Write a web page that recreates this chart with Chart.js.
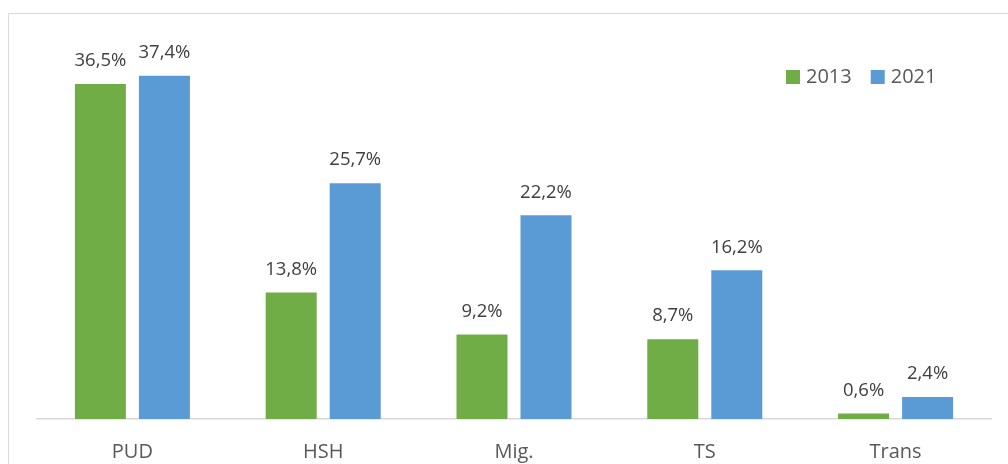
<!DOCTYPE html>
<html><head><meta charset="utf-8">
<script src="https://cdn.jsdelivr.net/npm/chart.js@4/dist/chart.umd.min.js"></script>
<style>html,body{margin:0;padding:0;background:#fff}#wrap{width:1008px;height:464px;position:relative}</style>
</head><body><div id="wrap"><canvas id="c" width="1008" height="464"></canvas></div>
<script>
const categories = ['PUD', 'HSH', 'Mig.', 'TS', 'Trans'];
const seriesNames = ['2013', '2021'];
const values2013 = [36.5, 13.8, 9.2, 8.7, 0.6];
const values2021 = [37.4, 25.7, 22.2, 16.2, 2.4];
const yMin = 0;
const yMax = 40;

const GREEN = '#70AD47';
const BLUE = '#5B9BD5';
const FONT = '"Open Sans", sans-serif';

function fmt(v) { return v.toFixed(1).replace('.', ',') + '%'; }

const framePlugin = {
  id: 'frame',
  beforeDraw(chart) {
    const ctx = chart.ctx;
    ctx.save();
    ctx.fillStyle = '#fff';
    ctx.fillRect(0, 0, chart.width, chart.height);
    ctx.strokeStyle = '#D9D9D9';
    ctx.lineWidth = 1;
    ctx.beginPath();
    ctx.moveTo(8.5, chart.height);
    ctx.lineTo(8.5, 13.5);
    ctx.lineTo(chart.width, 13.5);
    ctx.stroke();
    ctx.restore();
  }
};

const labelPlugin = {
  id: 'valueLabels',
  afterDatasetsDraw(chart) {
    const ctx = chart.ctx;
    ctx.save();
    ctx.font = '18.5px ' + FONT;
    ctx.fillStyle = '#404040';
    ctx.textAlign = 'center';
    ctx.textBaseline = 'middle';
    chart.data.datasets.forEach((ds, i) => {
      const meta = chart.getDatasetMeta(i);
      meta.data.forEach((bar, j) => {
        ctx.fillText(fmt(ds.data[j]), bar.x, bar.y - 23);
      });
    });
    ctx.restore();
  }
};

const legendPlugin = {
  id: 'customLegend',
  afterDraw(chart) {
    const ctx = chart.ctx;
    ctx.save();
    ctx.font = '20px ' + FONT;
    ctx.textBaseline = 'middle';
    ctx.textAlign = 'left';
    let x = 786;
    const y = 77;
    chart.data.datasets.forEach((ds) => {
      ctx.fillStyle = ds.backgroundColor;
      ctx.fillRect(x, y - 7, 14, 14);
      ctx.fillStyle = '#595959';
      ctx.fillText(ds.label, x + 20, y);
      x += 20 + ctx.measureText(ds.label).width + 19;
    });
    ctx.restore();
  }
};

new Chart(document.getElementById('c'), {
  type: 'bar',
  data: {
    labels: categories,
    datasets: [
      { label: seriesNames[0], data: values2013, backgroundColor: GREEN, categoryPercentage: 0.671, barPercentage: 0.797 },
      { label: seriesNames[1], data: values2021, backgroundColor: BLUE, categoryPercentage: 0.671, barPercentage: 0.797 }
    ]
  },
  options: {
    responsive: false,
    animation: false,
    devicePixelRatio: 1,
    layout: { padding: { left: 37, right: 17, top: 52, bottom: -21 } },
    plugins: { legend: { display: false }, tooltip: { enabled: false }, title: { display: false } },
    scales: {
      x: {
        grid: { display: false, drawTicks: false },
        border: { display: true, color: '#D9D9D9', width: 1.5 },
        ticks: { color: '#595959', font: { family: FONT, size: 20 }, padding: 21 }
      },
      y: { display: false, min: yMin, max: yMax }
    }
  },
  plugins: [framePlugin, labelPlugin, legendPlugin]
});
</script>
</body></html>
